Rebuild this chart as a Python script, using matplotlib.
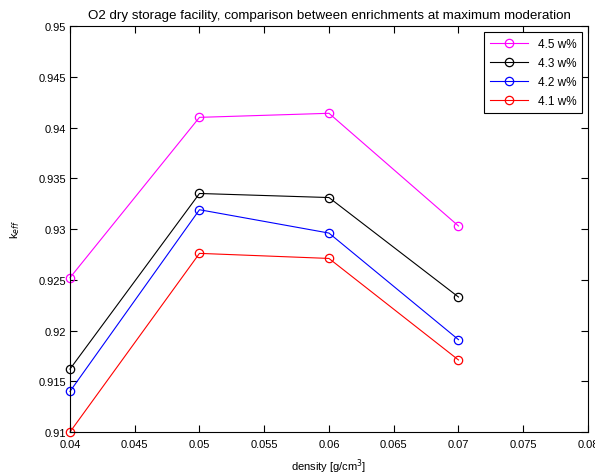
import matplotlib
matplotlib.use('Agg')
import matplotlib.pyplot as plt

density = [0.04, 0.05, 0.06, 0.07]
k45 = [0.9252, 0.9410, 0.9414, 0.9303]
k43 = [0.9162, 0.9335, 0.9331, 0.9233]
k42 = [0.9140, 0.9319, 0.9296, 0.9191]
k41 = [0.9100, 0.9276, 0.9271, 0.9171]
labels = ['4.5 w%', '4.3 w%', '4.2 w%', '4.1 w%']
colors = ['#ff00ff', 'k', 'b', 'r']

plt.rcParams['font.family'] = ['Liberation Sans', 'DejaVu Sans']
plt.rcParams['font.size'] = 8

fig = plt.figure(figsize=(5.95, 4.77), dpi=100)
ax = fig.add_axes([0.1176, 0.0922, 0.8706, 0.8512])

for y, lab, c in zip([k45, k43, k42, k41], labels, colors):
    ax.plot(density, y, '-o', color=c, mfc='none', mec=c, ms=6,
            lw=0.8, mew=0.9, label=lab, clip_on=False)

ax.set_xlim(0.04, 0.08)
ax.set_ylim(0.91, 0.95)
ax.set_xticks([0.04, 0.045, 0.05, 0.055, 0.06, 0.065, 0.07, 0.075, 0.08])
ax.set_xticklabels(['0.04', '0.045', '0.05', '0.055', '0.06', '0.065', '0.07', '0.075', '0.08'])
ax.set_yticks([0.91, 0.915, 0.92, 0.925, 0.93, 0.935, 0.94, 0.945, 0.95])
ax.set_yticklabels(['0.91', '0.915', '0.92', '0.925', '0.93', '0.935', '0.94', '0.945', '0.95'])
ax.tick_params(direction='in', top=True, right=True, length=5, width=0.8, pad=3)
ax.tick_params(axis='x', pad=5)
for s in ax.spines.values():
    s.set_linewidth(0.8)

ax.set_xlabel('density [g/cm$^3$]', labelpad=5)
ax.set_ylabel('k$_{eff}$', labelpad=12)
ax.set_title('O2 dry storage facility, comparison between enrichments at maximum moderation', pad=6)

leg = ax.legend(loc='upper right', fancybox=False, edgecolor='k', framealpha=1,
                handlelength=3.2, borderaxespad=0.5, labelspacing=0.6,
                borderpad=0.5, fontsize=8.5)
leg.get_frame().set_linewidth(0.8)

fig.savefig('out.png', dpi=100)
